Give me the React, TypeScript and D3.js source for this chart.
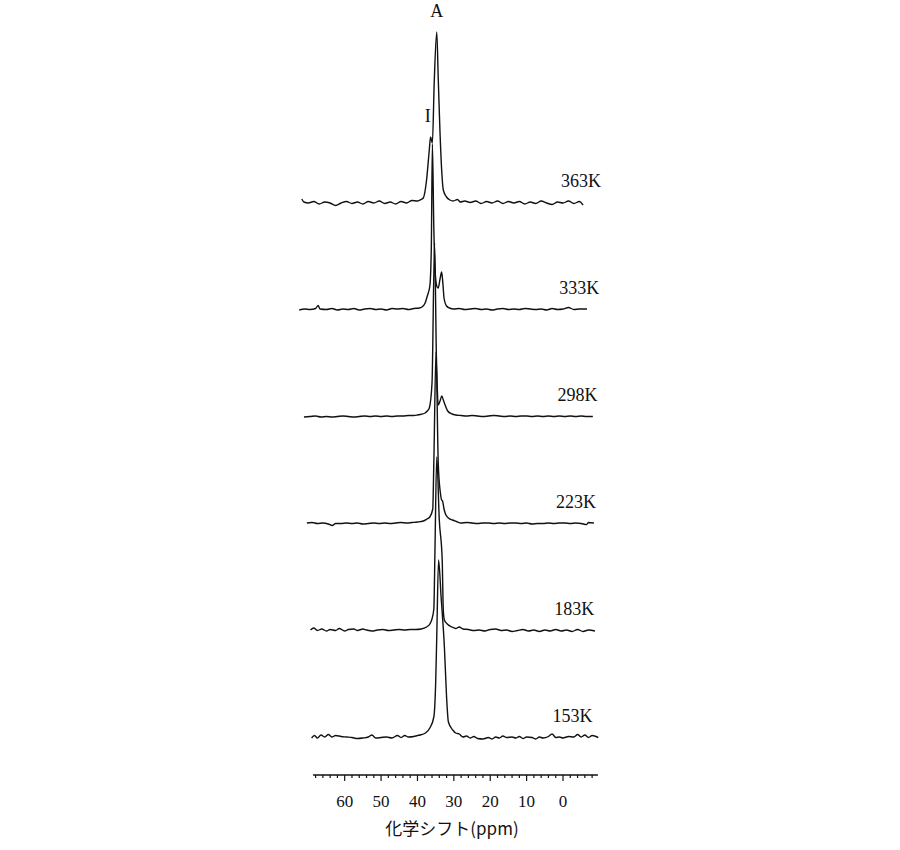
import React from "react";
import * as d3 from "d3";

// Temperature of each stacked 13C spectrum, top to bottom
const temperatures = ["363K", "333K", "298K", "223K", "183K", "153K"];

// Each trace: [chemical shift (ppm), intensity (a.u.)]
const spectrum363: [number, number][] = [
  [71.8, 3], [71.2, 0], [70, -1], [68.5, 0.5], [67, -2], [65.5, 0], [64, -1], [62.5, -3.5],
  [61, -1], [59.5, 0.5], [58, -1.5], [56.5, 0], [55, -2], [53.5, 0.5], [52, -1], [50.5, 1],
  [49, -1.5], [47.5, 0], [46, -2], [44.5, 0.5], [43, -1], [41.5, 1.5], [40, 1], [39, 2.5],
  [38.4, 4], [37.5, 22], [36.75, 52], [36.4, 65], [35.9, 59], [35.4, 119], [34.7, 170],
  [34.3, 125], [33.8, 69], [33.3, 29], [32.9, 12], [32.0, 5], [31.1, 2], [30.2, 1], [29, 2.5],
  [28.2, 0], [27, 1], [25.5, -0.5], [24, 1], [22.5, -1.5], [21, 0.5], [19.5, -1], [18, 1],
  [16.5, -1.5], [15, 0.5], [13.5, -1], [12, 0.5], [10.5, -2], [9, 0], [7.5, -1.5], [6, 1],
  [4.5, -1], [3, -2.5], [1.5, 0], [0, -1], [-1.5, 1], [-3, -1.5], [-4.5, 0.5], [-5.5, -3],
];

const spectrum333: [number, number][] = [
  [72.5, -1], [71, 0], [69.5, -0.5], [68, 0.5], [67.3, 3.5], [66.8, 0], [65, -0.5], [63.5, 0.5],
  [62, -1], [60.5, 0], [59, -0.5], [57.5, 0.5], [56, -1], [54.5, 0], [53, 0.5], [51.5, -0.5],
  [50, 0], [48.5, -1], [47, 0.5], [45.5, 0], [44, 0.5], [42.5, -0.5], [41, 0.5], [39.5, 1],
  [38.8, 2], [37.9, 6], [37.3, 13], [36.6, 23], [36.2, 60], [35.9, 165], [35.5, 80], [35.1, 35],
  [34.6, 22], [34.3, 21], [33.8, 30], [33.35, 37], [33.0, 25], [32.7, 11], [32.0, 3], [31.2, 1],
  [30, 0], [28.5, 0.5], [27, -0.5], [25.5, 0], [24, 0.5], [22.5, -0.5], [21, 0], [19.5, -1],
  [18, 0], [16.5, 0.5], [15, -0.5], [13.5, 0], [12, -0.5], [10.5, 0.5], [9, 0], [7.5, -0.5],
  [6, 0], [4.5, -1], [3, 0.5], [1.5, -0.5], [0, 0], [-1.5, 1.5], [-3, -0.5], [-4.5, 0], [-6.6, 0],
];

const spectrum298: [number, number][] = [
  [71.2, -1], [69.5, -0.5], [68, 0], [66.5, -1], [65, -0.5], [63.5, -1], [62, -0.5], [60.5, 0],
  [59, -0.5], [57.5, -1], [56, -0.5], [54.5, 0], [53, -0.5], [51.5, 0], [50, -0.5], [48.5, 0],
  [47, -0.5], [45.5, 0], [44, 0], [42.5, 0.5], [41, 0.5], [40, 1], [39.3, 1.5], [37.9, 3],
  [37.3, 5], [36.75, 8], [36.0, 33], [35.3, 173], [34.8, 60], [34.6, 33], [34.3, 11], [33.8, 15],
  [33.3, 20], [32.9, 16], [32.3, 10], [31.7, 5], [30.5, 2], [29.5, 1], [28, 0.5], [26.5, 0],
  [25, 0.5], [23.5, 0], [22, -0.5], [20.5, 0], [19, 0.5], [17.5, 0], [16, -0.5], [14.5, 0],
  [13, -0.5], [11.5, 0], [10, 0], [8.5, -0.5], [7, 0], [5.5, -0.5], [4, 0], [2.5, -0.5], [1, 0],
  [-0.5, -0.5], [-2, 0], [-3.5, -0.5], [-5, 0], [-6.5, -0.5], [-8.2, -0.5],
];

const spectrum223: [number, number][] = [
  [70.4, 0], [69, 0.5], [67.5, -0.5], [66, 0], [64.5, -1], [63.4, -2.5], [62.5, -0.5], [61, -0.5],
  [59.5, 0], [58, -0.5], [56.5, 0], [55, -1], [53.5, -0.5], [52, 0], [50.5, -0.5], [49, 0],
  [47.5, -0.5], [46, 0], [44.5, 0.5], [43, 0], [41.5, 0.5], [40, 1], [38.4, 2], [37.4, 4],
  [36.6, 6], [35.8, 14], [35.5, 61], [34.9, 171], [34.3, 61], [33.7, 30], [33.35, 23], [33.1, 22],
  [32.7, 14], [32.3, 9], [31.5, 5], [30.4, 3], [29.3, 1.5], [28, 0], [26.5, 0.5], [25, 0],
  [23.5, -0.5], [22, 0], [20.5, 0], [19, -0.5], [17.5, 0], [16, -0.5], [14.5, 0], [13, 0],
  [11.5, -0.5], [10, 0], [8.5, -1], [7, -0.5], [5.5, -0.5], [4, 0], [2.5, -0.5], [1, 0],
  [-0.5, 0], [-2, -0.5], [-3.5, 0], [-5, -0.5], [-6.5, -1.5], [-7, 0.5], [-8.5, 0],
];

const spectrum183: [number, number][] = [
  [69.4, 0], [68.5, 2], [67.5, -0.5], [66.3, 1], [65, -1], [64, 0.5], [62.5, -0.5], [61.5, 1.5],
  [60, -1], [59, 0.5], [57.5, 1], [56.5, -0.5], [55, 1], [54, 0], [52.5, -1], [51, 0],
  [49.5, 0.5], [48, -0.5], [46.5, 0], [45, 0.5], [43.5, 0], [42, 0.5], [40.5, 0.5], [39, 1],
  [37.5, 3], [36.6, 6], [36.1, 10], [35.5, 21], [35.2, 78], [34.7, 173], [34.0, 110], [33.2, 70],
  [32.9, 20], [32.6, 10], [31.8, 6], [30.5, 3], [29.5, 1.5], [28.5, 3], [27.5, 1], [26, 0.5],
  [24.5, -0.5], [23, 0], [21.5, -1], [20, 0.5], [18.5, 1], [17, -0.5], [15.5, 0], [14, -1.5],
  [12.5, -0.5], [11, 0.5], [9.5, -1], [8, 0], [6.5, -1.5], [5, 0], [3.5, -1], [2, 0.5],
  [0.5, -1], [-1, 0], [-2.5, -1.5], [-4, 0.5], [-5.5, -1.5], [-7, 0], [-8.8, -1],
];

const spectrum153: [number, number][] = [
  [69.1, -1], [68.3, 1.5], [67.5, -1], [66.5, 2], [65.5, 0], [64.5, 2.5], [63.5, 0], [62.5, 1.5],
  [61, 0.5], [59.5, 0], [58, -0.5], [56.5, -1.5], [55, -1], [53.5, 0], [52.5, 2], [51.5, -1],
  [50, -0.5], [48.5, 0], [47, -1], [45.5, 1.5], [44.5, -0.5], [43.5, 1.5], [42.5, 0], [41, 0.5],
  [40, 1.5], [39.3, 2], [37.8, 4], [36.6, 9], [35.5, 20], [35.0, 54], [34.7, 100], [34.2, 177],
  [33.5, 140], [32.6, 90], [32.0, 40], [31.5, 15], [30.3, 7], [29.5, 4], [28.5, 3], [27.5, 0],
  [26.5, 1], [25.5, -1], [24.5, 0.5], [23.5, -1.5], [22, -2], [20.5, -0.5], [19.5, -2], [18.5, 0],
  [17.5, -1], [16.5, 1], [15.5, -0.5], [14, 0], [13, -1], [12, 0.5], [11, -1.5], [10, 0],
  [8.5, -0.5], [7.5, -2], [6.5, 0], [5.5, -1], [4, 0.5], [3, 3], [2, -0.5], [1, 0], [0, -1],
  [-1.5, 0.5], [-3, 0], [-4, 2.5], [-5, 0], [-6, 2], [-7, -0.5], [-8, 1.5], [-9.7, -0.5],
];

const spectra = [spectrum363, spectrum333, spectrum298, spectrum223, spectrum183, spectrum153];

// Peak labels on the top trace: [label, ppm, intensity]
const peakLabels: [string, number, number][] = [
  ["A", 34.7, 170],
  ["I", 37.2, 65],
];

// Chemical-shift axis
const axisExtent = [68.7, -9.6];
const tickLabels = [60, 50, 40, 30, 20, 10, 0];
const axisTitle = "化学シフト(ppm)";

const serif = "'Liberation Serif', 'DejaVu Serif', serif";
const ink = "#111";

export default function App() {
  const width = 900;
  const height = 850;

  const x = d3.scaleLinear().domain([0, 60]).range([563, 344.7]);
  const intensity = d3.scaleLinear().domain([0, 180]).range([0, 180]);
  const rowBaseline = d3.scaleLinear().domain([0, temperatures.length - 1]).range([202, 737]);
  const axisY = 775;

  const minorTicks = d3.range(68, -9, -2);

  return (
    <svg
      width={width}
      height={height}
      style={{ position: "absolute", left: 0, top: 0, background: "#fff" }}
    >
      {spectra.map((data, i) => {
        const base = rowBaseline(i);
        const line = d3
          .line<[number, number]>()
          .x((d) => x(d[0]))
          .y((d) => base - intensity(d[1]))
          .curve(d3.curveMonotoneX);
        return (
          <path
            key={temperatures[i]}
            d={line(data) || ""}
            fill="none"
            stroke={ink}
            strokeWidth={1.4}
            strokeLinejoin="round"
          />
        );
      })}

      {temperatures.map((t, i) => (
        <text
          key={t}
          x={601 - i * 1.7}
          y={rowBaseline(i) - 15}
          textAnchor="end"
          fontFamily={serif}
          fontSize={18}
          fill={ink}
        >
          {t}
        </text>
      ))}

      {peakLabels.map(([label, ppm, val]) => (
        <text
          key={label}
          x={x(ppm)}
          y={rowBaseline(0) - intensity(val) - 15}
          textAnchor="middle"
          fontFamily={serif}
          fontSize={18}
          fill={ink}
        >
          {label}
        </text>
      ))}

      <g>
        <line
          x1={x(axisExtent[0])}
          x2={x(axisExtent[1])}
          y1={axisY}
          y2={axisY}
          stroke={ink}
          strokeWidth={1.5}
        />
        {minorTicks.map((v) => (
          <line
            key={v}
            x1={x(v)}
            x2={x(v)}
            y1={axisY}
            y2={axisY + (v % 10 === 0 ? 6 : 3)}
            stroke={ink}
            strokeWidth={1.2}
          />
        ))}
        {tickLabels.map((v) => (
          <text
            key={v}
            x={x(v)}
            y={axisY + 32}
            textAnchor="middle"
            fontFamily={serif}
            fontSize={17}
            fill={ink}
          >
            {v}
          </text>
        ))}
        <text
          x={452}
          y={axisY + 60}
          textAnchor="middle"
          fontFamily="'Noto Sans CJK JP', serif"
          fontSize={17}
          fill={ink}
        >
          {axisTitle}
        </text>
      </g>
    </svg>
  );
}
